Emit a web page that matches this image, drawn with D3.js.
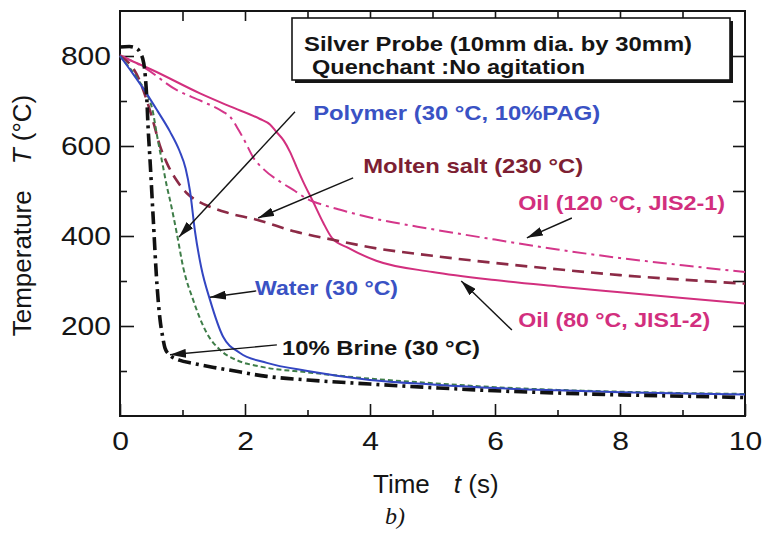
<!DOCTYPE html>
<html>
<head>
<meta charset="utf-8">
<script src="https://cdn.jsdelivr.net/npm/d3@7"></script>
<style>
  body { margin: 0; background: #fff; }
  svg { display: block; }
</style>
</head>
<body>
<svg id="chart" width="763" height="539"></svg>
<script>
// Cooling curves of a silver probe quenched in different media.

// Axis ticks
const xTicksMajor = [0, 2, 4, 6, 8, 10];
const xTicksMinor = [1, 3, 5, 7, 9];
const xTicksTop = [1, 2, 3, 4, 5, 6, 7, 8, 9];
const yTicksMajor = [200, 400, 600, 800];
const yTicksMinor = [100, 300, 500, 700];
const yTicksRight = [100, 200, 300, 400, 500, 600, 700, 800];

// Water (30 °C)
const waterTime = [0, 0.2, 0.4, 0.6, 0.8, 0.95, 1.05, 1.12, 1.2, 1.3, 1.44, 1.65, 1.92, 2.35, 3, 4, 5, 6, 7, 8, 9, 10];
const waterTemp = [800, 762, 722, 678, 632, 590, 550, 500, 410, 330, 258, 176, 140, 118, 100, 80, 70, 62, 57, 53, 50, 48];

// Polymer (30 °C, 10% PAG)
const polymerTime = [0, 0.3, 0.45, 0.52, 0.59, 0.69, 0.75, 0.8, 0.91, 1.01, 1.17, 1.39, 1.6, 1.87, 2.24, 3, 4, 5, 6, 7, 8, 9, 10];
const polymerTemp = [800, 745, 710, 680, 625, 553, 510, 480, 405, 331, 258, 184, 147, 124, 110, 97, 83, 73, 64, 58, 54, 51, 49];

// 10% Brine (30 °C)
const brineTime = [0, 0.15, 0.25, 0.32, 0.38, 0.43, 0.45, 0.48, 0.53, 0.59, 0.64, 0.68, 0.72, 0.8, 0.95, 1.17, 1.5, 1.75, 2.35, 3, 4, 5, 6, 7, 8, 9, 10];
const brineTemp = [820, 821, 818, 808, 784, 702, 640, 570, 443, 295, 215, 178, 151, 135, 124, 117, 108, 102, 88, 80, 71, 63, 56, 51, 47, 44, 41];

// Molten salt (230 °C)
const saltTime = [0, 0.3, 0.42, 0.51, 0.64, 0.75, 0.9, 1.07, 1.25, 1.44, 1.71, 2.19, 2.8, 3.5, 4, 5, 6, 7, 8, 9, 10];
const saltTemp = [800, 750, 705, 665, 600, 562, 525, 495, 477, 465, 452, 436, 410, 389, 375, 356, 340, 326, 313, 303, 294];

// Oil (120 °C, JIS2-1)
const oil120Time = [0, 0.37, 0.91, 1.3, 1.65, 1.76, 1.9, 2.0, 2.13, 2.3, 2.56, 2.8, 3.0, 3.3, 3.66, 4, 5, 6, 7, 8, 9, 10];
const oil120Temp = [802, 776, 724, 700, 676, 665, 635, 610, 575, 548, 521, 500, 482, 467, 453, 441, 415, 392, 370, 351, 335, 320];

// Oil (80 °C, JIS1-2)
const oil80Time = [0, 0.5, 1.28, 1.76, 2.24, 2.4, 2.51, 2.62, 2.72, 2.82, 2.93, 3.09, 3.25, 3.39, 3.66, 4.1, 5, 6, 7, 8, 9, 10];
const oil80Temp = [800, 770, 717, 688, 660, 648, 630, 612, 587, 555, 521, 476, 430, 396, 373, 345, 320, 302, 288, 275, 262, 250];

// Curve labels and their leader arrows (time, temperature)
const labelTexts = ["Polymer (30 °C, 10%PAG)", "Molten salt (230  °C)", "Oil (120 °C, JIS2-1)", "Oil (80 °C, JIS1-2)", "Water (30 °C)", "10% Brine (30  °C)"];
const labelAt = [[3.09, 658], [3.89, 540], [6.37, 458], [6.37, 198], [2.16, 269], [2.59, 136]];
const arrowFrom = [[2.8, 676], [3.73, 529], [7.23, 440], [6.27, 191], [2.18, 278], [2.51, 158]];
const arrowTo = [[0.944, 398], [2.21, 440], [6.51, 396], [5.46, 300], [1.44, 264], [0.8, 136]];

const FONT = "'Liberation Sans', Arial, Helvetica, sans-serif";
const INK = "#151515";
const BLUE = "#3a52c4";
const MAROON = "#7d1f33";
const MAGENTA = "#d22f7e";

const svg = d3.select("#chart");
const x = d3.scaleLinear().domain([0, 10]).range([120, 745]);
const y = d3.scaleLinear().domain([0, 900]).range([416, 11]);

// ---- axes (ticks point inward) ----
function styleTicks(g) {
  g.select(".domain").remove();
  g.selectAll(".tick line").attr("stroke", INK).attr("stroke-width", 1.6);
}

const leftMajor = svg.append("g").attr("transform", `translate(${x(0)},0)`)
  .call(d3.axisLeft(y).tickValues(yTicksMajor).tickSize(-14).tickSizeOuter(0).tickPadding(9).tickFormat(d3.format("d")));
styleTicks(leftMajor);
leftMajor.selectAll("text")
  .attr("font-family", FONT).attr("font-size", 25).attr("fill", INK)
  .attr("x", -9 / 1.2).attr("transform", "scale(1.2,1)");

const leftMinor = svg.append("g").attr("transform", `translate(${x(0)},0)`)
  .call(d3.axisLeft(y).tickValues(yTicksMinor).tickSize(-7).tickSizeOuter(0).tickFormat(""));
styleTicks(leftMinor);

const rightAxis = svg.append("g").attr("transform", `translate(${x(10)},0)`)
  .call(d3.axisRight(y).tickValues(yTicksRight).tickSize(-12).tickSizeOuter(0).tickFormat(""));
styleTicks(rightAxis);

const topAxis = svg.append("g").attr("transform", `translate(0,${y(900)})`)
  .call(d3.axisTop(x).tickValues(xTicksTop).tickSize(-10).tickSizeOuter(0).tickFormat(""));
styleTicks(topAxis);

const bottomMajor = svg.append("g").attr("transform", `translate(0,${y(0)})`)
  .call(d3.axisBottom(x).tickValues(xTicksMajor).tickSize(-12).tickSizeOuter(0).tickPadding(16).tickFormat(d3.format("d")));
styleTicks(bottomMajor);
bottomMajor.selectAll("text")
  .attr("font-family", FONT).attr("font-size", 25).attr("fill", INK)
  .attr("transform", "scale(1.2,1)");

const bottomMinor = svg.append("g").attr("transform", `translate(0,${y(0)})`)
  .call(d3.axisBottom(x).tickValues(xTicksMinor).tickSize(-6).tickSizeOuter(0).tickFormat(""));
styleTicks(bottomMinor);

// plot frame
svg.append("rect")
  .attr("x", x(0)).attr("y", y(900))
  .attr("width", x(10) - x(0)).attr("height", y(0) - y(900))
  .attr("fill", "none").attr("stroke", INK).attr("stroke-width", 2);

// ---- axis titles ----
const yTitle = svg.append("text")
  .attr("transform", `translate(31,${(y(0) + y(900)) / 2 + 2}) rotate(-90)`)
  .attr("text-anchor", "middle")
  .attr("font-family", FONT).attr("font-size", 26).attr("fill", INK);
yTitle.append("tspan").text("Temperature\u2003");
yTitle.append("tspan").attr("font-style", "italic").text("T");
yTitle.append("tspan").text(" (°C)");

const xTitle = svg.append("text")
  .attr("x", 373).attr("y", 493)
  .attr("font-family", FONT).attr("font-size", 26).attr("fill", INK);
xTitle.append("tspan").text("Time");
xTitle.append("tspan").attr("dx", 24).attr("font-style", "italic").text("t");
xTitle.append("tspan").text(" (s)");

svg.append("text")
  .attr("x", 385).attr("y", 524)
  .attr("font-family", "'Liberation Serif', 'Times New Roman', serif")
  .attr("font-style", "italic").attr("font-size", 24).attr("fill", INK)
  .text("b)");

// ---- curves ----
const line = d3.line()
  .x(d => x(d[0]))
  .y(d => y(d[1]))
  .curve(d3.curveMonotoneX);

const series = [
  { time: oil80Time, temp: oil80Temp, color: MAGENTA, width: 2, dash: null },
  { time: oil120Time, temp: oil120Temp, color: "#d4368a", width: 2, dash: "14,5,3,5" },
  { time: saltTime, temp: saltTemp, color: "#8c2a46", width: 2.6, dash: "12,7" },
  { time: polymerTime, temp: polymerTemp, color: "#3e7d48", width: 2, dash: "5,3" },
  { time: waterTime, temp: waterTemp, color: "#3346c2", width: 2, dash: null },
  { time: brineTime, temp: brineTemp, color: "#111", width: 3.6, dash: "13,5,3,5" }
];

svg.append("g").selectAll("path")
  .data(series)
  .join("path")
  .attr("d", s => line(s.time.map((t, i) => [t, s.temp[i]])))
  .attr("fill", "none")
  .attr("stroke", s => s.color)
  .attr("stroke-width", s => s.width)
  .attr("stroke-dasharray", s => s.dash)
  .attr("stroke-linejoin", "round");

// ---- leader arrows ----
svg.append("defs").append("marker")
  .attr("id", "arrowhead")
  .attr("viewBox", "0 0 16 9")
  .attr("refX", 16).attr("refY", 4.5)
  .attr("markerWidth", 16).attr("markerHeight", 9)
  .attr("markerUnits", "userSpaceOnUse")
  .attr("orient", "auto")
  .append("path").attr("d", "M0,0L16,4.5L0,9Z").attr("fill", INK);

svg.append("g").selectAll("line")
  .data(arrowFrom.map((f, i) => ({ from: f, to: arrowTo[i] })))
  .join("line")
  .attr("x1", d => x(d.from[0])).attr("y1", d => y(d.from[1]))
  .attr("x2", d => x(d.to[0])).attr("y2", d => y(d.to[1]))
  .attr("stroke", INK).attr("stroke-width", 1.4)
  .attr("marker-end", "url(#arrowhead)");

// ---- curve labels ----
const labelColors = [BLUE, MAROON, MAGENTA, MAGENTA, BLUE, INK];
const labelWidths = [287, 220, 207, 192, 143, 198];

svg.append("g").selectAll("text")
  .data(labelTexts.map((t, i) => ({ text: t, at: labelAt[i], color: labelColors[i], w: labelWidths[i] })))
  .join("text")
  .attr("x", d => x(d.at[0])).attr("y", d => y(d.at[1]))
  .attr("font-family", FONT).attr("font-weight", "bold").attr("font-size", 21)
  .attr("fill", d => d.color)
  .attr("textLength", d => d.w).attr("lengthAdjust", "spacingAndGlyphs")
  .text(d => d.text);

// ---- info box ----
const box = svg.append("g");
box.append("rect").attr("x", 295).attr("y", 21).attr("width", 438).attr("height", 62).attr("fill", INK);
box.append("rect").attr("x", 292).attr("y", 18).attr("width", 438).attr("height", 62)
  .attr("fill", "#fff").attr("stroke", INK).attr("stroke-width", 1.6);
box.append("text").attr("x", 304).attr("y", 51)
  .attr("font-family", FONT).attr("font-weight", "bold").attr("font-size", 20).attr("fill", INK)
  .attr("textLength", 388).attr("lengthAdjust", "spacingAndGlyphs")
  .text("Silver Probe (10mm dia. by 30mm)");
box.append("text").attr("x", 312).attr("y", 74)
  .attr("font-family", FONT).attr("font-weight", "bold").attr("font-size", 20).attr("fill", INK)
  .attr("textLength", 273).attr("lengthAdjust", "spacingAndGlyphs")
  .text("Quenchant :No agitation");
</script>
</body>
</html>
